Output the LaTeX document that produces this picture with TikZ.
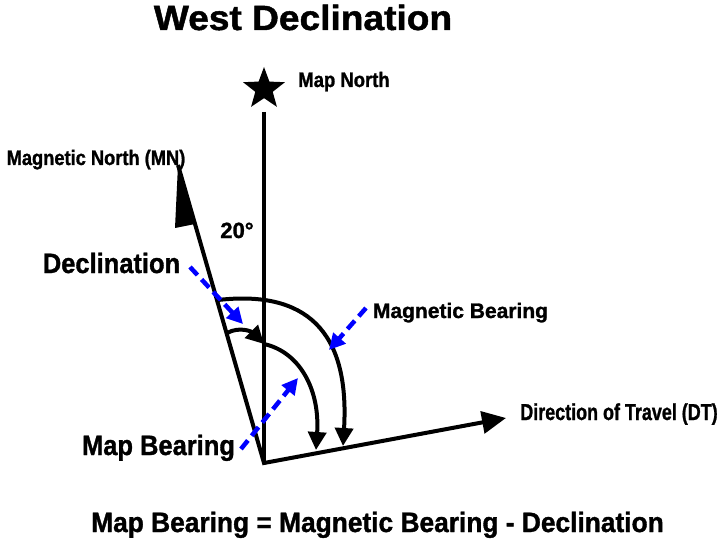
\documentclass[tikz,border=0pt]{standalone}
\usepackage{fontspec}
\setmainfont{Liberation Sans}[BoldFeatures={FakeBold=1.3}]
\usepackage{graphicx}
\usetikzlibrary{arrows.meta,shapes.geometric}
\newcommand\lbl[3]{\scalebox{#1}[1]{\fontsize{#2}{#2}\selectfont\bfseries #3}}
\begin{document}
\begin{tikzpicture}[x=1pt,y=-1pt,
  lab/.style={inner sep=0pt, anchor=base},
  ln/.style={line width=4pt},
  blk/.style={ln, -{Triangle[length=18pt,width=18pt]}},
  bl/.style={draw=blue, line width=4.5pt, dash pattern=on 11pt off 6pt, -{Triangle[length=16pt,width=16pt]}, blue}]
\useasboundingbox (0,0) rectangle (720,540);
\coordinate (O) at (264,463);
\coordinate (N) at (264,112);
\coordinate (MN) at (178,165);
\coordinate (DT) at (506,418);
\coordinate (B1) at (175,228);
\coordinate (B2) at (195,224);
% star
\node[star, star points=5, star point ratio=2.4, fill=black, inner sep=0pt, minimum size=44pt] (star) at (264,89) {};
% axes
\draw[ln] (N) -- (O);
\draw[ln, line join=miter, -{Triangle[length=24pt,width=22pt]}] (MN) -- (O) -- (DT);
\fill (MN) -- (B1) -- (B2) -- cycle;
% arcs
\coordinate (a1) at (218,300);
\coordinate (a1e) at (343,446);
\coordinate (a2) at (227,333);
\coordinate (a2e) at (264,344);
\coordinate (a3e) at (316,450);
\draw[blk] (a1) .. controls (305,290) and (350,330) .. (a1e);
\draw[blk] (a2) .. controls (240,326) and (252,332) .. (a2e);
\draw[blk] (a2e) .. controls (300,352) and (320,390) .. (a3e);
% labels
\node[lab] (title) at (303,30) {\lbl{1.06}{35}{West Declination}};
\node[lab] (mapn) at (344,87) {\lbl{0.88}{21}{Map North}};
\node[lab] (magn) at (96,165) {\lbl{0.87}{21}{Magnetic North (MN)}};
\node[lab] (deg) at (237,238) {\lbl{1}{22}{20°}};
\node[lab] (decl) at (111.5,273) {\lbl{0.91}{28}{Declination}};
\node[lab] (magb) at (460.5,318) {\lbl{1}{21}{Magnetic Bearing}};
\node[lab] (dtl) at (619,420) {\lbl{0.78}{23}{Direction of Travel (DT)}};
\node[lab] (mapb) at (158.5,455) {\lbl{0.91}{28}{Map Bearing}};
\node[lab] (form) at (377.5,532) {\lbl{0.94}{28}{Map Bearing = Magnetic Bearing - Declination}};
% blue pointers
\coordinate (d1) at (190,267);
\coordinate (d1e) at (243,324);
\coordinate (m1) at (366,308);
\coordinate (m1e) at (329,350);
\coordinate (p1) at (241,449);
\coordinate (p1e) at (298,378);
\draw[bl] (d1) -- (d1e);
\draw[bl] (m1) -- (m1e);
\draw[bl] (p1) -- (p1e);
\end{tikzpicture}
\end{document}
